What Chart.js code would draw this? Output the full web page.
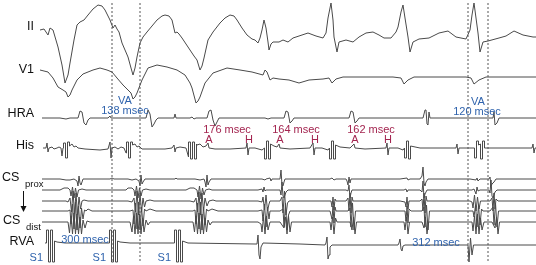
<!DOCTYPE html>
<html>
<head>
<meta charset="utf-8">
<script src="https://cdn.jsdelivr.net/npm/chart.js@4.4.1/dist/chart.umd.min.js"></script>
<style>
  html, body { margin: 0; padding: 0; background: #fff; }
  #wrap { width: 536px; height: 265px; }
</style>
</head>
<body>
<div id="wrap"><canvas id="ecg" width="536" height="265"></canvas></div>
<script>
// time axis in sample columns, amplitudes relative to each channel's baseline (up = positive)
const channelNames = ["II", "V1", "HRA", "His", "CS1", "CS2", "CS3", "CS4", "CS5", "RVA"];

const leadII = [[40,3],[44,4],[48,-2],[50,5],[53,3],[58,-14],[62,-32],[65,-50],[68,-42],[70,-30],[74,-7],[77,8],[80,11],[84,13],[88,18],[93,24],[98,28],[102,27],[105,23],[110,13],[113,5],[115,8],[117,4],[119,1],[122,-10],[125,-17],[128,-24],[131,-35],[133,-42],[135,-35],[137,-24],[140,-10],[143,-4],[147,1],[152,7],[157,13],[162,17],[165,18],[169,17],[172,13],[175,0],[177,1],[179,-1],[182,-5],[186,-11],[190,-17],[194,-23],[197,-27],[200,-37],[202,-33],[204,-25],[208,-7],[213,1],[220,10],[225,15],[230,18],[234,17],[237,13],[242,5],[247,-2],[252,-6],[255,-7],[258,-10],[260,-5],[262,3],[264,13],[266,5],[268,-9],[269,-17],[271,-11],[273,-9],[279,-9],[283,-7],[288,-9],[293,-5],[299,-3],[308,0],[316,-3],[323,-5],[326,0],[328,15],[331,30],[333,13],[334,-4],[337,-19],[339,-9],[346,-7],[353,-9],[359,-4],[366,0],[373,1],[379,-2],[384,-5],[391,-5],[396,1],[398,6],[401,21],[403,28],[405,15],[408,-4],[410,-19],[413,-9],[419,-6],[429,-5],[439,0],[448,2],[456,-4],[466,-6],[470,3],[472,18],[474,30],[476,15],[478,0],[480,-19],[483,-9],[488,-8],[499,-5],[506,-3],[514,2],[523,-2],[533,-4],[536,-4]];

const leadV1 = [[40,7],[48,5],[53,-1],[58,-10],[63,-13],[66,-15],[68,-20],[70,-18],[72,-13],[77,-3],[83,3],[93,7],[100,9],[107,7],[112,5],[117,-1],[123,-8],[128,-13],[131,-16],[133,-22],[135,-20],[137,-16],[142,-3],[148,9],[157,12],[167,10],[177,7],[185,2],[190,-6],[192,-11],[196,-26],[198,-24],[200,-20],[205,-6],[213,4],[227,9],[240,7],[252,5],[263,2],[265,7],[267,5],[270,-3],[273,-1],[279,-2],[289,-3],[299,-6],[309,-3],[323,-2],[329,-1],[332,-6],[336,-2],[343,0],[366,0],[393,0],[401,-1],[404,-7],[408,-3],[414,0],[466,0],[471,-1],[474,-7],[479,-3],[486,0],[536,0]];

const hra = [[42,0],[60,0],[66,-1],[70,0],[78,0],[80,7],[82,6],[84,-5],[86,-7],[88,-2],[90,0],[108,0],[110,2],[111,0],[130,0],[146,0],[148,8],[150,4],[152,-9],[154,-6],[156,-2],[158,0],[174,0],[175,4],[176,0],[190,0],[192,1],[194,-1],[196,0],[207,0],[209,7],[211,8],[213,-2],[215,-8],[217,-4],[219,0],[240,0],[265,0],[268,-1],[271,0],[284,0],[286,7],[288,6],[290,-5],[292,-3],[294,0],[320,0],[349,0],[351,7],[353,6],[355,-5],[357,-3],[359,0],[390,0],[423,0],[425,8],[426,8],[427,-6],[428,-7],[429,6],[430,0],[460,0],[493,0],[494,6],[495,-7],[497,-5],[499,0],[536,0]];

const his = [[43,0],[46,0],[47,5],[48,-4],[49,0],[52,1],[54,-1],[57,0],[59,1],[61,0],[62,-8],[63,0],[63.5,0],[63.5,5],[65.5,5],[65.5,-10],[67.5,-10],[67.5,6],[69.5,6],[69.5,2],[72,4],[74,1],[76,2],[78,0],[85,-1],[100,-2],[108,-1],[110,6],[111,-10],[112,0],[115,1],[118,-1],[121,1],[124,0],[126,-5],[126.5,0],[126.5,6],[128.5,6],[128.5,-10],[130.5,-10],[130.5,6],[132.5,6],[132.5,3],[135,4],[137,1],[139,2],[142,-1],[150,-1],[165,-1],[172,0],[174,3],[175,-4],[176,0],[180,1],[186,0],[188.5,-9],[188.5,6],[190.5,6],[190.5,-11],[192.5,-11],[192.5,6],[194.5,6],[194.5,-11],[196.5,-11],[196.5,4],[197,3],[200,4],[203,1],[206,2],[208,5],[209,0],[215,-1],[230,-1],[246,0],[247,5],[248,-7],[249,0],[255,0],[262,-2],[264.5,0],[264.5,-11],[266.5,-11],[266.5,7],[268.5,7],[268.5,-11],[270.5,-11],[270.5,4],[274,2],[277,1],[279,4],[280,0],[290,-1],[310,0],[313,5],[314,-7],[315,0],[322,0],[328,-2],[329.5,0],[329.5,-11],[331.5,-11],[331.5,7],[333.5,7],[333.5,-11],[335.5,-11],[335.5,3],[340,1],[350,0],[354,4],[355,0],[365,-1],[386,0],[387,5],[388,-7],[389,0],[398,0],[403,-2],[404.5,0],[404.5,-10],[406.5,-10],[406.5,7],[408.5,7],[408.5,-11],[410.5,-11],[410.5,2],[420,0],[440,0],[456,0],[457,4],[458,-6],[459,0],[470,0],[474.5,0],[474.5,-10],[476.5,-10],[476.5,7],[478.5,7],[478.5,3],[480.5,4],[480.5,-11],[482.5,-11],[482.5,7],[484.5,7],[484.5,0],[500,0],[520,0],[532,0],[533,4],[534,-5],[535,0],[536,0]];

const csProx = [[42,0],[60,0],[66,-1],[70,-1],[74,0],[77,-2],[78,-7],[79,3],[80,-4],[81,-6],[83,0],[86,0],[100,0],[110,0],[112,1],[114,0],[128,0],[132,-1],[136,0],[139,-2],[140,-7],[141,4],[142,-5],[143,-3],[145,0],[160,0],[175,0],[176,1],[177,0],[195,0],[200,-1],[204,0],[205,-3],[206,-8],[207,4],[208,-6],[209,-3],[211,0],[230,0],[255,0],[262,0],[265,-1],[266,0],[270,1],[271,-2],[272,0],[280,0],[281,9],[282,-6],[283,-7],[284,-3],[285,0],[300,0],[330,0],[332,1],[334,-1],[336,0],[346,0],[347,-2],[348,-6],[349,2],[350,-4],[351,0],[360,0],[400,0],[407,1],[408,-1],[410,0],[420,0],[422,3],[423,12],[424,-4],[425,-7],[426,-3],[428,0],[440,0],[470,0],[476,-1],[477,1],[478,-2],[480,0],[489,0],[490,2],[491,-7],[492,-5],[494,-3],[496,0],[536,0]];

const cs2 = [[42,0],[60,0],[62,1],[64,2],[68,2],[70,0],[71,-6],[72.5,3],[74,-8],[75.5,2],[77,-7],[78.5,0],[82,1],[86,0],[100,0],[112,0],[126,0],[128,2],[132,2],[134,0],[135,-6],[136.5,4],[138,-8],[139.5,2],[141,-6],[142.5,0],[146,1],[150,0],[176,0],[186,0],[190,2],[194,2],[197,0],[198,-7],[199.5,4],[201,-9],[202.5,2],[204,-5],[205.5,0],[209,1],[212,0],[240,0],[258,0],[262,1],[263,-2],[264,3],[265,-1],[266,0],[268,0],[280,0],[281,-5],[282,8],[283,-6],[284,-8],[286,-2],[288,0],[300,0],[346,0],[348,-1],[349,5],[350,-8],[351,-3],[352,0],[360,0],[404,0],[406,1],[407,-2],[408,0],[420,0],[422,-2],[423,9],[424,-8],[425,-4],[427,0],[440,0],[472,0],[474,1],[476,-4],[477,3],[478,-1],[480,0],[489,0],[490,-3],[491,10],[492,-6],[493,-8],[495,-2],[497,0],[536,0]];

const cs3 = [[42,0],[60,0],[66,0],[68,-1],[70,3],[71.5,-11],[73,10],[74.5,-13],[76,8],[77.5,-14],[79,4],[80.5,-8],[82,0],[84,1],[88,0],[110,0],[128,0],[132,-1],[134,3],[135.5,-11],[137,10],[138.5,-14],[140,8],[141.5,-11],[143,3],[144.5,-6],[146,0],[150,1],[154,0],[170,0],[190,0],[194,-1],[196,3],[197.5,-11],[199,9],[200.5,-14],[202,8],[203.5,-10],[205,3],[207,-5],[209,0],[213,1],[216,0],[240,0],[258,0],[262,-1],[263,4],[264.5,-9],[266,6],[267.5,-10],[269,-3],[270,0],[280,0],[282,4],[283,-12],[284.5,10],[286,-14],[287.5,-2],[289,0],[300,0],[320,0],[331,0],[332,-6],[333,4],[334,-9],[335,2],[336,0],[346,0],[348,3],[349,-10],[350,8],[351,-12],[352,4],[353,0],[360,0],[400,0],[405,-1],[406,-6],[407,4],[408,-8],[409,0],[420,0],[422,2],[423,-10],[424,8],[425,-12],[426,5],[427,0],[440,0],[470,0],[472,-1],[473,-7],[474.5,6],[476,-10],[477.5,4],[479,-8],[480.5,0],[490,0],[492,3],[493,-10],[494,8],[495,-8],[496,2],[498,0],[536,0]];

const cs4 = [[42,0],[60,0],[68,0],[70,1],[71,-13],[72.5,7],[74,-18],[75.5,9],[77,-19],[78.5,5],[80,-17],[81.5,3],[83,-8],[84.5,1],[86,0],[88,2],[92,0],[110,0],[130,0],[133,1],[134,-13],[135.5,8],[137,-18],[138.5,9],[140,-19],[141.5,4],[143,-15],[144.5,2],[146,0],[150,2],[156,0],[175,0],[193,0],[195,1],[196,-13],[197.5,8],[199,-18],[200.5,9],[202,-19],[203.5,4],[205,-14],[206.5,2],[208,0],[212,2],[218,0],[240,0],[258,0],[262,1],[263,-10],[264.5,7],[266,-16],[267.5,4],[269,-8],[270,0],[280,0],[283,2],[284,-16],[285.5,8],[287,-19],[288.5,-4],[290,0],[300,0],[330,0],[332,-8],[333,5],[334,-12],[335,4],[336,0],[348,0],[350,3],[351,-16],[352.5,8],[354,-19],[355.5,0],[370,0],[405,0],[406,-10],[407,5],[408,-12],[409,2],[411,0],[422,0],[424,4],[425,-16],[426.5,6],[428,-19],[429.5,0],[450,0],[472,0],[473,0],[474,-6],[475.5,6],[477,-16],[478.5,6],[480,-14],[481.5,2],[483,0],[490,0],[493,4],[494,-14],[495.5,8],[497,-16],[498.5,0],[536,0]];

const csDist = [[42,0],[60,0],[68,0],[69.5,-11],[71,6],[72.5,-12],[74,9],[75.5,-12],[77,8],[78.5,-12],[80,5],[81.5,-12],[83,2],[85,-6],[87,1],[90,0],[110,0],[130,0],[132,-10],[133.5,6],[135,-12],[136.5,9],[138,-12],[139.5,8],[141,-12],[142.5,4],[144,-10],[146,2],[148,-3],[150,0],[160,0],[185,0],[193,0],[194.5,-10],[196,6],[197.5,-12],[199,9],[200.5,-12],[202,8],[203.5,-12],[205,4],[206.5,-10],[208,2],[210,-3],[212,0],[240,0],[258,0],[261,-2],[262,-10],[263.5,5],[265,-12],[266.5,6],[268,-8],[270,0],[280,0],[284,-6],[285.5,5],[287,-12],[288.5,6],[290,-10],[291.5,0],[300,0],[330,0],[331,-8],[332.5,5],[334,-12],[335.5,4],[337,0],[350,0],[352,-8],[353.5,5],[355,-12],[356.5,0],[370,0],[404,0],[405,-8],[406.5,5],[408,-12],[409.5,0],[422,0],[424,-6],[425.5,5],[427,-12],[428.5,0],[450,0],[472,0],[473,-9],[474.5,6],[476,-12],[477.5,8],[479,-12],[480.5,4],[482,-8],[484,0],[492,0],[495,-6],[496.5,5],[498,-12],[499.5,0],[536,0]];

const rva = [[45,0],[46.5,0],[46.5,13],[48.5,13],[48.5,-19],[50.5,-19],[50.5,13],[52.5,13],[52.5,-19],[54.5,-19],[54.5,2],[57,1],[65,0],[108,0],[109.5,0],[109.5,13],[111.5,13],[111.5,-19],[113.5,-19],[113.5,13],[115.5,13],[115.5,-19],[117.5,-19],[117.5,2],[120,1],[130,0],[173,0],[174.5,0],[174.5,13],[176.5,13],[176.5,-19],[178.5,-19],[178.5,13],[180.5,13],[180.5,-19],[182.5,-19],[182.5,2],[188,0],[255,-1],[257,-1],[258,8],[259,-12],[260,-16],[261,-4],[263,0],[300,-1],[325,-2],[326,0],[327,6],[328,-16],[329,-12],[330,-4],[332,-2],[335,-2],[398,-2],[399,0],[400,4],[401,-6],[402,-8],[403,-3],[405,-2],[466,-2],[468,-2],[469,-19],[470.5,5],[472,-12],[473.5,-2],[475,-2],[536,-2]];

const traces = [leadII, leadV1, hra, his, csProx, cs2, cs3, cs4, csDist, rva];

// measurement cursors and stimulus times
const cursorTimes = [112, 140, 468, 488];
const s1Times = [47, 110, 175];

// interval labels
const vaText = ["VA", "138 msec", "VA", "120 msec"];
const cycleText = ["300 msec", "312 msec"];
const cycleTimes = [85, 436];
const ahText = ["176 msec", "164 msec", "162 msec"];
const ahTimes = [227, 296, 371];
const aTimes = [209, 280, 355];
const hTimes = [249, 315, 388];

// ---- layout ----
const H = 265;
const baseRow = [33, 77, 118, 148, 179, 190, 201, 211, 222, 243];

function level(i){ return H - baseRow[i]; }

let datasets = [];

cursorTimes.forEach(t => {
    datasets.push({
        data: [{x: t, y: H - 3}, {x: t, y: H - 263}],
        borderColor: "#555",
        borderWidth: 1,
        borderDash: [2, 2],
        pointRadius: 0,
        showLine: true
    });
});

traces.forEach((tr, i) => {
    datasets.push({
        label: channelNames[i],
        data: tr.map(p => ({x: p[0], y: level(i) + p[1]})),
        borderColor: "#4a4a4a",
        borderWidth: 1,
        pointRadius: 0,
        showLine: true,
        tension: 0
    });
});

const BLUE = "#2f63ad";
const RED = "#a3244f";

const textPlugin = {
    id: "texts",
    afterDatasetsDraw(chart){
        const c = chart.ctx;
        const xs = chart.scales.x, ys = chart.scales.y;
        const px = t => xs.getPixelForValue(t);
        const py = r => ys.getPixelForValue(H - r);
        c.save();
        c.textBaseline = "middle";

        // channel names
        c.fillStyle = "#111";
        c.font = "12.5px 'Liberation Sans', Arial, sans-serif";
        c.textAlign = "right";
        c.fillText("II", 34, 27);
        c.fillText("V1", 34, 70);
        c.fillText("HRA", 34, 114);
        c.fillText("His", 34, 146);
        c.fillText("RVA", 34, 242);
        c.textAlign = "left";
        c.fillText("CS", 2, 178);
        c.fillText("CS", 3, 221);
        c.font = "9.5px 'Liberation Sans', Arial, sans-serif";
        c.fillText("prox", 25, 184);
        c.fillText("dist", 26, 227);

        // arrow prox -> dist
        c.strokeStyle = "#111";
        c.lineWidth = 1;
        c.beginPath();
        c.moveTo(23.5, 191);
        c.lineTo(23.5, 208);
        c.stroke();
        c.fillStyle = "#111";
        c.beginPath();
        c.moveTo(20.5, 206);
        c.lineTo(26.5, 206);
        c.lineTo(23.5, 212);
        c.closePath();
        c.fill();

        // blue interval labels
        c.font = "11px 'Liberation Sans', Arial, sans-serif";
        c.fillStyle = BLUE;
        c.textAlign = "center";
        const mid1 = (cursorTimes[0] + cursorTimes[1]) / 2;
        const mid2 = (cursorTimes[2] + cursorTimes[3]) / 2;
        c.fillText(vaText[0], px(mid1 - 1), py(101));
        c.fillText(vaText[1], px(mid1 - 1), py(111));
        c.fillText(vaText[2], px(mid2), py(102));
        c.fillText(vaText[3], px(mid2 - 1), py(112));
        c.fillText(cycleText[0], px(cycleTimes[0]), py(240));
        c.fillText(cycleText[1], px(cycleTimes[1]), py(243));
        c.textAlign = "right";
        s1Times.forEach(t => c.fillText("S1", px(t - 4), py(258)));

        // red A-H labels
        c.fillStyle = RED;
        c.textAlign = "center";
        ahText.forEach((s, k) => {
            c.fillText(s, px(ahTimes[k]), py(130));
            c.fillText("A", px(aTimes[k]), py(140));
            c.fillText("H", px(hTimes[k]), py(140));
        });
        c.restore();
    }
};

new Chart(document.getElementById("ecg").getContext("2d"), {
    type: "scatter",
    data: { datasets: datasets },
    options: {
        responsive: false,
        devicePixelRatio: 1,
        animation: false,
        layout: { padding: 0 },
        plugins: { legend: { display: false }, tooltip: { enabled: false } },
        scales: {
            x: { type: "linear", min: 0, max: 536, display: false },
            y: { type: "linear", min: 0, max: H, display: false }
        }
    },
    plugins: [textPlugin]
});
</script>
</body>
</html>
